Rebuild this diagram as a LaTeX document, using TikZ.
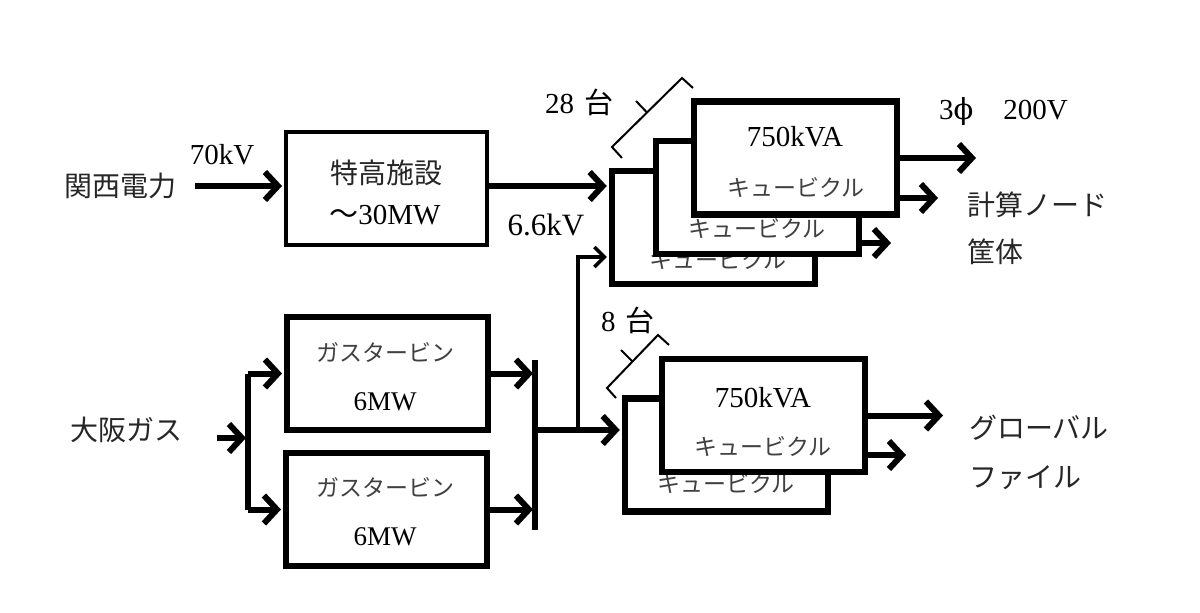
\documentclass[tikz,border=0pt]{standalone}
\usepackage{fontspec}
\setmainfont{Liberation Serif}
\newfontfamily\jp{Noto Sans CJK JP}
\newfontfamily\dv{DejaVu Serif}
\usetikzlibrary{arrows.meta}
\begin{document}
\begin{tikzpicture}[x=1pt,y=-1pt,
  thinbox/.style={draw,line width=4pt,fill=white,inner sep=0pt,minimum width=201pt,minimum height=113pt},
  gtbox/.style={draw,line width=6pt,fill=white,inner sep=0pt,minimum width=201pt,minimum height=113pt},
  cubox/.style={draw,line width=6.5pt,fill=white,inner sep=0pt,minimum width=203pt,minimum height=113pt},
  arr/.style={line width=6pt,-{Straight Barb[length=13pt,width=28pt]},shorten >=2pt},
  thinarr/.style={line width=3.5pt,-{Straight Barb[length=10pt,width=20pt]},shorten >=2pt},
  busline/.style={line width=6pt},
  bracket/.style={line width=2pt},
  lbl/.style={font=\fontsize{29}{31}\selectfont,inner sep=0pt},
  mwlbl/.style={font=\fontsize{27}{29}\selectfont,inner sep=0pt},
  jlbl/.style={font=\jp\fontsize{28}{30}\selectfont,inner sep=0pt,text=black!85},
  klbl/.style={font=\jp\fontsize{23}{25}\selectfont,inner sep=0pt,text=black!75}]
\useasboundingbox[fill=white] (0,0) rectangle (1200,613);

% --- left side labels
\node[jlbl] (kansai) at (120,186) {関西電力};
\node[lbl] (v70) at (222,155) {70kV};
\node[jlbl] (osaka) at (126,430) {大阪ガス};

% --- special high voltage facility
\node[thinbox] (tokko) at (386.5,188.5) {};
\node[jlbl] (tokkoA) at (386,173) {特高施設};
\node[lbl] (tokkoB) at (385,215) {{\jp ～}30MW};

% --- gas turbines
\node[gtbox] (gt1) at (387.5,373.5) {};
\node[klbl] (gt1A) at (385,353) {ガスタービン};
\node[mwlbl] (gt1B) at (385,402) {6MW};
\node[gtbox] (gt2) at (386.5,509.5) {};
\node[klbl] (gt2A) at (385,488) {ガスタービン};
\node[mwlbl] (gt2B) at (385,537) {6MW};

% --- cubicle stack 1 (28 units)
\node[cubox] (cu1c) at (713.5,227.5) {};
\node[klbl] (cu1cT) at (718,260) {キュービクル};
\node[cubox] (cu1b) at (757.5,197.5) {};
\node[klbl] (cu1bT) at (757,229) {キュービクル};
\node[cubox] (cu1a) at (795.5,158) {};
\node[lbl] (cu1aA) at (795,137) {750kVA};
\node[klbl] (cu1aB) at (796,188) {キュービクル};

% --- cubicle stack 2 (8 units)
\node[cubox] (cu2b) at (726.5,455) {};
\node[klbl] (cu2bT) at (726,484) {キュービクル};
\node[cubox] (cu2a) at (763.5,415.5) {};
\node[lbl] (cu2aA) at (763,398) {750kVA};
\node[klbl] (cu2aB) at (763,447) {キュービクル};

% --- other labels
\node[lbl,font=\fontsize{31}{33}\selectfont] (v66) at (546,225) {6.6kV};
\node[lbl,anchor=west] (n28) at (545,102) {28\hspace{10pt}{\jp 台}};
\node[lbl,anchor=west] (n8) at (601,320) {8\hspace{10pt}{\jp 台}};
\node[lbl,anchor=west] (v200) at (939,111) {3{\dv ϕ}\hspace{30pt}200V};
\node[jlbl,anchor=west] (nodeA) at (967,205) {計算ノード};
\node[jlbl,anchor=west] (nodeB) at (967,252) {筐体};
\node[jlbl,anchor=west] (globA) at (969,428) {グローバル};
\node[jlbl,anchor=west] (globB) at (969,478) {ファイル};

% --- coordinates for free ends
\coordinate (kin) at (195,186);
\coordinate (gin) at (217,438);
\coordinate (split) at (248,438);
\coordinate (bustop) at (535,360);
\coordinate (busbot) at (535,530);
\coordinate (j) at (578,430);
\coordinate (tap) at (578,257);
\coordinate (o1) at (978,158);
\coordinate (o2) at (940,198);
\coordinate (o3) at (893,243);
\coordinate (o4) at (945,415.5);
\coordinate (o5) at (908,455);

% --- connectors
\draw[arr] (kin) -- (kin -| tokko.west);
\draw[arr] (tokko.east |- kin) -- (kin -| cu1c.west);
\draw[busline] (split |- gt1.west) -- (split |- gt2.west);
\draw[arr] (gin) -- (split);
\draw[arr] (split |- gt1.west) -- (gt1.west);
\draw[arr] (split |- gt2.west) -- (gt2.west);
\draw[busline] (bustop) -- (busbot);
\draw[arr] (gt1.east) -- (gt1.east -| bustop);
\draw[arr] (gt2.east) -- (gt2.east -| bustop);
\draw[arr] (bustop |- j) -- (j -| cu2b.west);
\draw[thinarr] (j) -- (tap) -- (tap -| cu1c.west);
\draw[arr] (cu1a.east) -- (o1);
\draw[arr] (cu1a.east |- o2) -- (o2);
\draw[arr] (cu1b.east |- o3) -- (o3);
\draw[arr] (cu2a.east) -- (o4);
\draw[arr] (cu2a.east |- o5) -- (o5);

% --- count brackets
\draw[bracket] (622,158) -- (612,147) -- (682,78) -- (693,88);
\draw[bracket] (647,112.5) -- (636,101);
\draw[bracket] (616,398) -- (607,388) -- (658,335) -- (669,345);
\draw[bracket] (632.5,361.5) -- (621,350);
\end{tikzpicture}
\end{document}
